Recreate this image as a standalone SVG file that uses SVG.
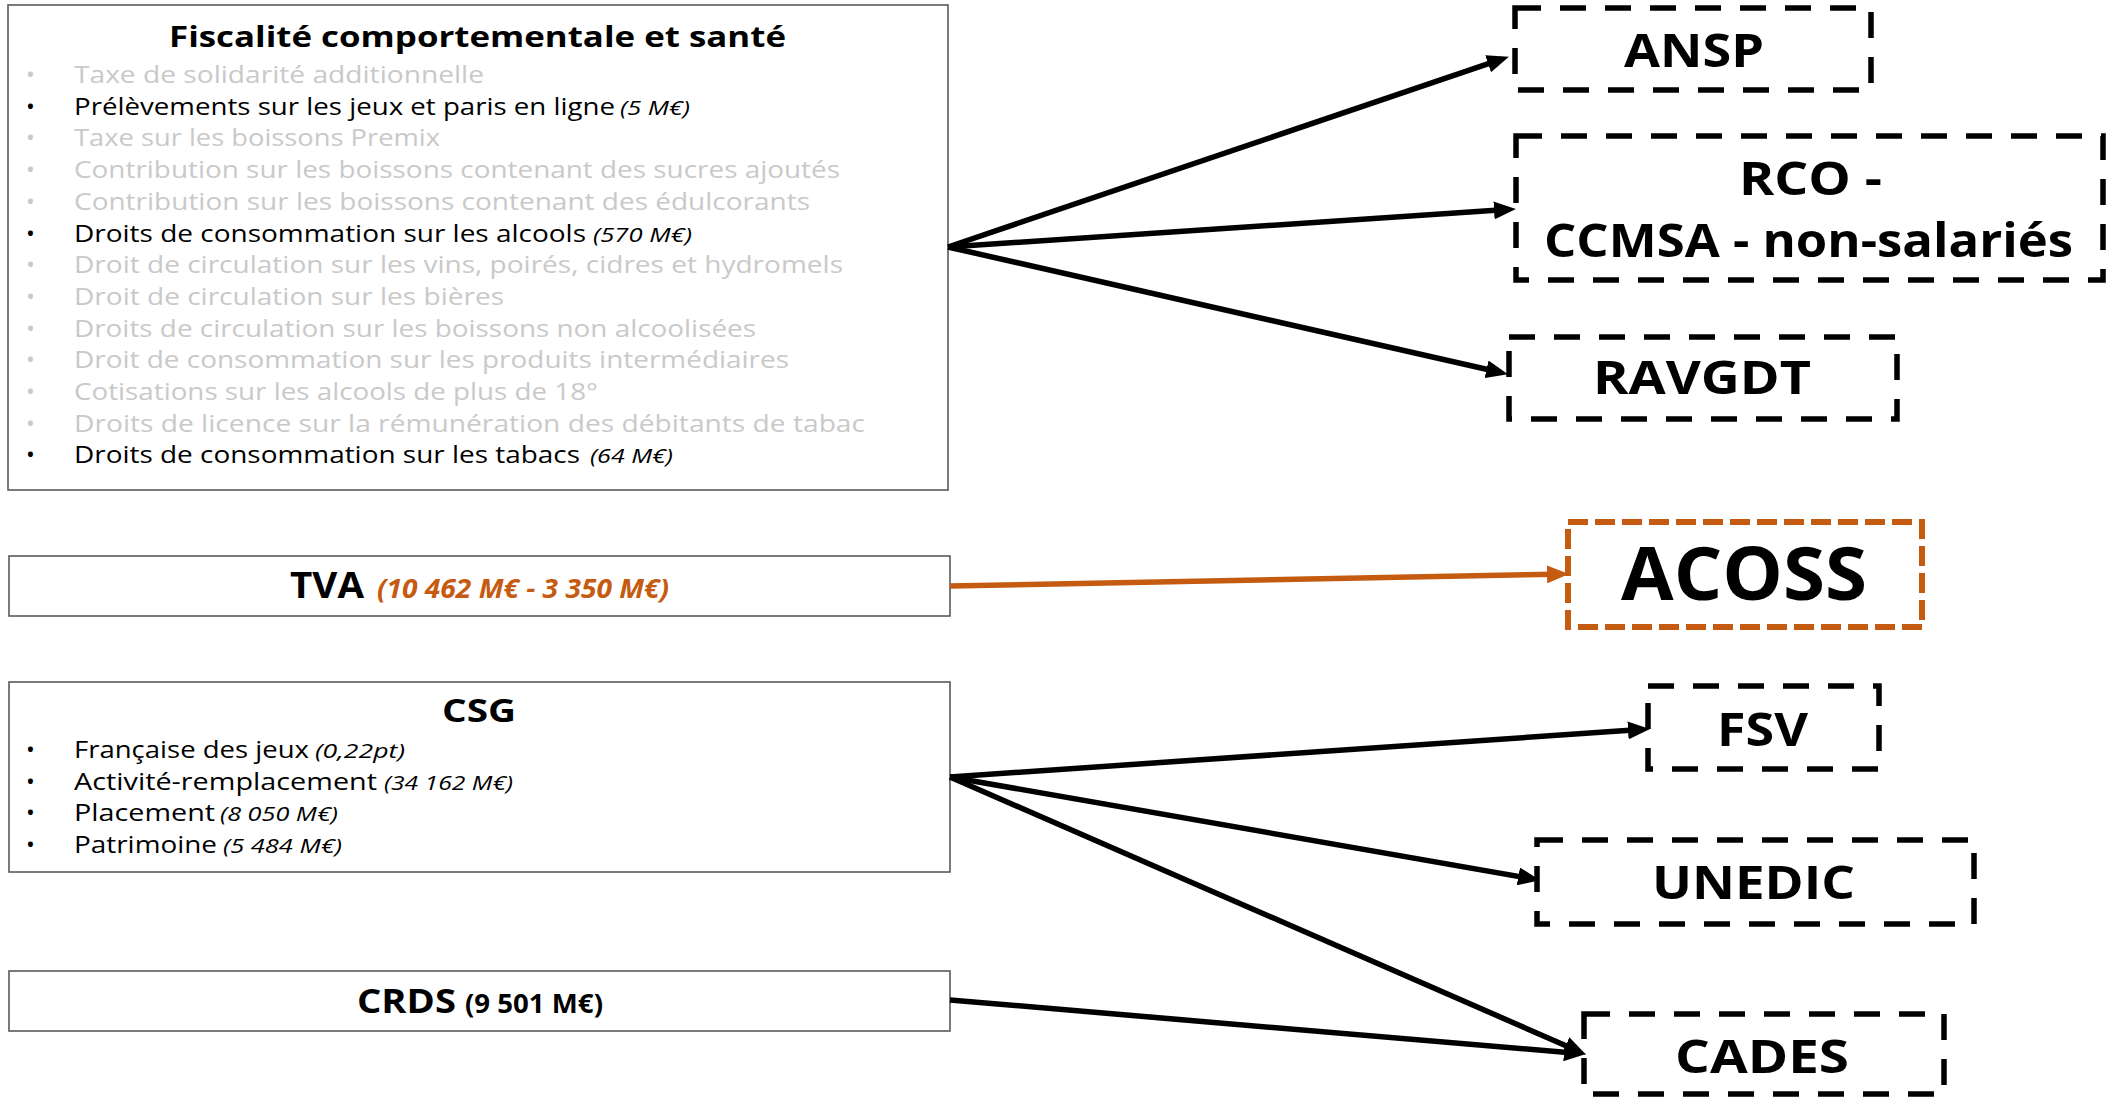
<svg xmlns="http://www.w3.org/2000/svg" width="2118" height="1099" viewBox="0 0 2118 1099">
<style>
text{font-family:"Open Sans","Liberation Sans",sans-serif;}
.src{fill:#fff;stroke:#595959;stroke-width:1.6;}
.dst{fill:none;stroke:#000;stroke-width:5.5;stroke-dasharray:26 19;}
.dsto{fill:none;stroke:#C55A11;stroke-width:6;stroke-dasharray:20 7;}
.b{font-size:23.5px;fill:#000;}
.g{font-size:23.5px;fill:#c9c9c9;}
.i{font-style:italic;font-size:20px;}
.lbl{font-size:47px;font-weight:bold;fill:#000;}
.con{stroke:#000;stroke-width:5.5;fill:none;marker-end:url(#ah);}
.cono{stroke:#C55A11;stroke-width:5.5;fill:none;marker-end:url(#aho);}
</style>
<defs>
<marker id="ah" markerUnits="userSpaceOnUse" markerWidth="22" markerHeight="18" refX="9" refY="9" orient="auto"><path d="M0,0 L22,9 L0,18 z" fill="#000"/></marker>
<marker id="aho" markerUnits="userSpaceOnUse" markerWidth="22" markerHeight="18" refX="9" refY="9" orient="auto"><path d="M0,0 L22,9 L0,18 z" fill="#C55A11"/></marker>
</defs>
<rect width="2118" height="1099" fill="#fff"/>

<g id="fiscalite">
<rect class="src" x="8" y="5" width="940" height="485"/>
<text x="169" y="47" font-size="29" font-weight="bold" textLength="617" lengthAdjust="spacingAndGlyphs">Fiscalité comportementale et santé</text>
<g class="g">
<text class="g" x="26" y="83">•</text><text class="g" x="74" y="83" textLength="410" lengthAdjust="spacingAndGlyphs">Taxe de solidarité additionnelle</text>
<text class="g" x="26" y="146.4">•</text><text class="g" x="74" y="146.4" textLength="366" lengthAdjust="spacingAndGlyphs">Taxe sur les boissons Premix</text>
<text class="g" x="26" y="178.1">•</text><text class="g" x="74" y="178.1" textLength="766" lengthAdjust="spacingAndGlyphs">Contribution sur les boissons contenant des sucres ajoutés</text>
<text class="g" x="26" y="209.8">•</text><text class="g" x="74" y="209.8" textLength="736" lengthAdjust="spacingAndGlyphs">Contribution sur les boissons contenant des édulcorants</text>
<text class="g" x="26" y="273.2">•</text><text class="g" x="74" y="273.2" textLength="769" lengthAdjust="spacingAndGlyphs">Droit de circulation sur les vins, poirés, cidres et hydromels</text>
<text class="g" x="26" y="304.9">•</text><text class="g" x="74" y="304.9" textLength="430" lengthAdjust="spacingAndGlyphs">Droit de circulation sur les bières</text>
<text class="g" x="26" y="336.6">•</text><text class="g" x="74" y="336.6" textLength="682" lengthAdjust="spacingAndGlyphs">Droits de circulation sur les boissons non alcoolisées</text>
<text class="g" x="26" y="368.3">•</text><text class="g" x="74" y="368.3" textLength="715" lengthAdjust="spacingAndGlyphs">Droit de consommation sur les produits intermédiaires</text>
<text class="g" x="26" y="400">•</text><text class="g" x="74" y="400" textLength="524" lengthAdjust="spacingAndGlyphs">Cotisations sur les alcools de plus de 18°</text>
<text class="g" x="26" y="431.7">•</text><text class="g" x="74" y="431.7" textLength="791" lengthAdjust="spacingAndGlyphs">Droits de licence sur la rémunération des débitants de tabac</text>
</g>
<text class="b" x="26" y="114.7">•</text><text class="b" y="114.7"><tspan x="74" textLength="541" lengthAdjust="spacingAndGlyphs">Prélèvements sur les jeux et paris en ligne</tspan><tspan class="i" x="620" textLength="70" lengthAdjust="spacingAndGlyphs">(5 M€)</tspan></text>
<text class="b" x="26" y="241.5">•</text><text class="b" y="241.5"><tspan x="74" textLength="512" lengthAdjust="spacingAndGlyphs">Droits de consommation sur les alcools</tspan><tspan class="i" x="593" textLength="99" lengthAdjust="spacingAndGlyphs">(570 M€)</tspan></text>
<text class="b" x="26" y="463.4">•</text><text class="b" y="463.4"><tspan x="74" textLength="506" lengthAdjust="spacingAndGlyphs">Droits de consommation sur les tabacs</tspan><tspan class="i" x="590" textLength="83" lengthAdjust="spacingAndGlyphs">(64 M€)</tspan></text>
</g>

<g id="tva">
<rect class="src" x="9" y="556" width="941" height="60"/>
<text y="598" font-weight="bold"><tspan x="290" font-size="35" textLength="74" lengthAdjust="spacingAndGlyphs">TVA</tspan><tspan x="377" font-size="27" font-style="italic" fill="#C55A11" textLength="292" lengthAdjust="spacingAndGlyphs">(10 462 M€ - 3 350 M€)</tspan></text>
</g>

<g id="csg">
<rect class="src" x="9" y="682" width="941" height="190"/>
<text x="442" y="722" font-size="32" font-weight="bold" textLength="74" lengthAdjust="spacingAndGlyphs">CSG</text>
<text class="b" x="26" y="758">•</text><text class="b" y="758"><tspan x="74" textLength="235" lengthAdjust="spacingAndGlyphs">Française des jeux</tspan><tspan class="i" x="315" textLength="90" lengthAdjust="spacingAndGlyphs">(0,22pt)</tspan></text>
<text class="b" x="26" y="789.7">•</text><text class="b" y="789.7"><tspan x="74" textLength="303" lengthAdjust="spacingAndGlyphs">Activité-remplacement</tspan><tspan class="i" x="384" textLength="129" lengthAdjust="spacingAndGlyphs">(34 162 M€)</tspan></text>
<text class="b" x="26" y="821.4">•</text><text class="b" y="821.4"><tspan x="74" textLength="141" lengthAdjust="spacingAndGlyphs">Placement</tspan><tspan class="i" x="220" textLength="118" lengthAdjust="spacingAndGlyphs">(8 050 M€)</tspan></text>
<text class="b" x="26" y="853.1">•</text><text class="b" y="853.1"><tspan x="74" textLength="143" lengthAdjust="spacingAndGlyphs">Patrimoine</tspan><tspan class="i" x="223" textLength="119" lengthAdjust="spacingAndGlyphs">(5 484 M€)</tspan></text>
</g>

<g id="crds">
<rect class="src" x="9" y="971" width="941" height="60"/>
<text y="1013" font-weight="bold"><tspan x="357" font-size="34" textLength="99" lengthAdjust="spacingAndGlyphs">CRDS</tspan><tspan x="465" font-size="26" textLength="138" lengthAdjust="spacingAndGlyphs">(9 501 M€)</tspan></text>
</g>

<g id="ansp">
<rect class="dst" x="1515" y="8" width="356" height="82"/>
<text class="lbl" x="1624" y="67" textLength="140" lengthAdjust="spacingAndGlyphs">ANSP</text>
</g>
<g id="rco">
<rect class="dst" x="1516" y="136" width="587" height="144"/>
<text class="lbl" x="1739" y="195" textLength="143" lengthAdjust="spacingAndGlyphs">RCO -</text>
<text class="lbl" x="1544" y="257" textLength="529" lengthAdjust="spacingAndGlyphs">CCMSA - non-salariés</text>
</g>
<g id="ravgdt">
<rect class="dst" x="1509" y="337" width="388" height="82"/>
<text class="lbl" x="1593" y="394" textLength="218" lengthAdjust="spacingAndGlyphs">RAVGDT</text>
</g>
<g id="acoss">
<rect class="dsto" x="1568" y="522" width="354" height="105"/>
<text x="1621" y="600" font-size="73" font-weight="bold" textLength="246" lengthAdjust="spacingAndGlyphs">ACOSS</text>
</g>
<g id="fsv">
<rect class="dst" x="1648" y="686" width="231" height="83"/>
<text class="lbl" x="1717" y="746" textLength="91" lengthAdjust="spacingAndGlyphs">FSV</text>
</g>
<g id="unedic">
<rect class="dst" x="1537" y="840" width="437" height="84"/>
<text class="lbl" x="1652" y="899" textLength="203" lengthAdjust="spacingAndGlyphs">UNEDIC</text>
</g>
<g id="cades">
<rect class="dst" x="1584" y="1014" width="360" height="80"/>
<text class="lbl" x="1675" y="1073" textLength="174" lengthAdjust="spacingAndGlyphs">CADES</text>
</g>

<g id="connectors">
<line class="con" x1="948" y1="247" x2="1496.6" y2="60.9"/>
<line class="con" x1="948" y1="247" x2="1503" y2="209.8"/>
<line class="con" x1="948" y1="247" x2="1495.3" y2="371.3"/>
<line class="cono" x1="950" y1="586" x2="1556" y2="574.2"/>
<line class="con" x1="950" y1="777" x2="1637" y2="729.8"/>
<line class="con" x1="950" y1="777" x2="1527.2" y2="877.9"/>
<line class="con" x1="950" y1="777" x2="1574" y2="1049.2"/>
<line class="con" x1="950" y1="1000" x2="1573" y2="1053"/>
</g>
</svg>
